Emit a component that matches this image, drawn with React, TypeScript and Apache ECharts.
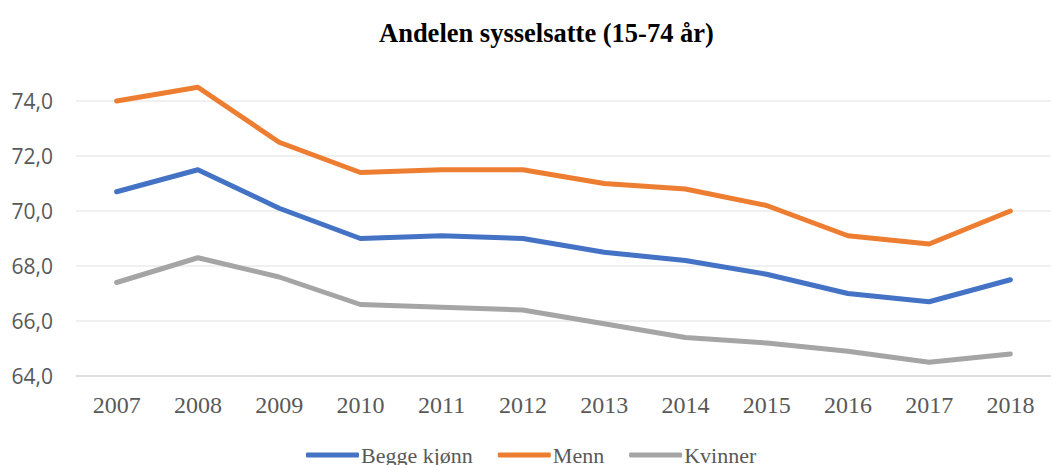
import React, { useEffect, useRef } from "react";
import * as echarts from "echarts";

const years = ["2007", "2008", "2009", "2010", "2011", "2012", "2013", "2014", "2015", "2016", "2017", "2018"];
const begge = [70.7, 71.5, 70.1, 69.0, 69.1, 69.0, 68.5, 68.2, 67.7, 67.0, 66.7, 67.5];
const menn = [74.0, 74.5, 72.5, 71.4, 71.5, 71.5, 71.0, 70.8, 70.2, 69.1, 68.8, 70.0];
const kvinner = [67.4, 68.3, 67.6, 66.6, 66.5, 66.4, 65.9, 65.4, 65.2, 64.9, 64.5, 64.8];

const serif = "'Liberation Serif', 'Times New Roman', serif";
const sans = "'Open Sans', 'Liberation Sans', sans-serif";

export default function App() {
  const ref = useRef<HTMLDivElement>(null);
  useEffect(() => {
    if (!ref.current) return;
    const chart = echarts.init(ref.current, undefined, { renderer: "svg" });
    const mk = (name: string, data: number[], color: string) => ({
      name,
      type: "line",
      data,
      symbol: "none",
      clip: false,
      lineStyle: { color, width: 5, cap: "round", join: "round" },
      itemStyle: { color },
    });
    chart.setOption({
      animation: false,
      title: {
        text: "Andelen sysselsatte (15-74 år)",
        left: 374,
        top: 14,
        textStyle: { fontFamily: serif, fontWeight: "bold", fontSize: 26.5, color: "#000" },
      },
      legend: {
        bottom: -6,
        left: 301,
        itemWidth: 53,
        itemHeight: 5,
        itemGap: 25,
        icon: "roundRect",
        textStyle: { fontFamily: serif, fontSize: 22, color: "#595959", padding: [0, 0, 0, -3] },
        data: ["Begge kjønn", "Menn", "Kvinner"],
      },
      grid: { left: 76, right: -10, top: 101, bottom: 89 },
      xAxis: {
        type: "category",
        data: years,
        boundaryGap: true,
        axisLine: { lineStyle: { color: "#D9D9D9", width: 1.5 } },
        axisTick: { show: false },
        axisLabel: { fontFamily: serif, fontSize: 24, color: "#595959", margin: 17 },
      },
      yAxis: {
        type: "value",
        min: 64,
        max: 74,
        interval: 2,
        axisLine: { show: false },
        axisTick: { show: false },
        splitLine: { lineStyle: { color: "#F0F0F0", width: 2 } },
        axisLabel: {
          fontFamily: sans,
          fontSize: 21,
          color: "#595959",
          margin: 23,
          formatter: (v: number) => v.toFixed(1).replace(".", ","),
        },
      },
      series: [
        mk("Begge kjønn", begge, "#4472C4"),
        mk("Menn", menn, "#ED7D31"),
        mk("Kvinner", kvinner, "#A5A5A5"),
      ],
    });
    return () => chart.dispose();
  }, []);
  return (
    <div
      ref={ref}
      style={{ position: "absolute", left: 0, top: 0, width: 1051, height: 465, background: "#fff" }}
    />
  );
}
